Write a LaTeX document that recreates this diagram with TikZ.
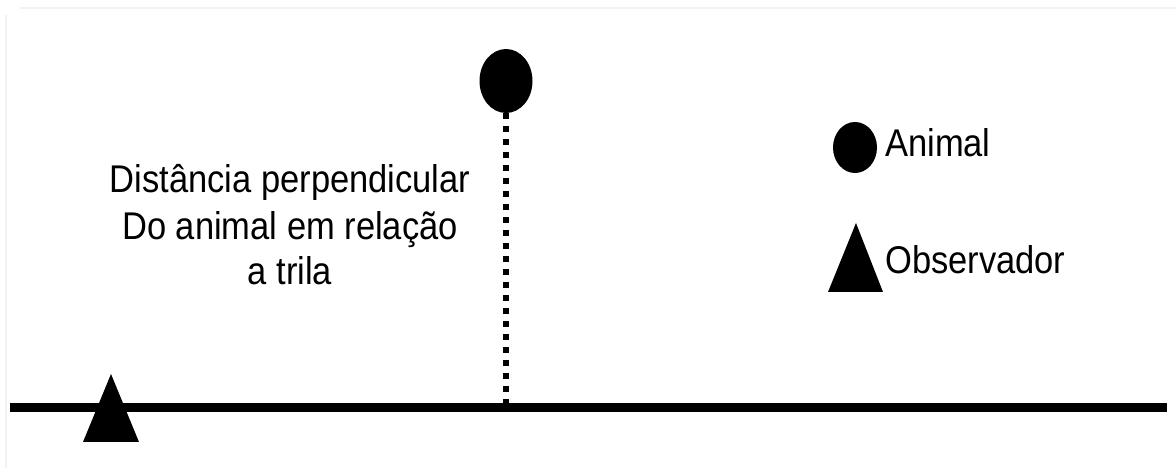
\documentclass[tikz,border=0pt]{standalone}
\usepackage{fontspec}
\setmainfont{Liberation Sans}
\usetikzlibrary{shapes.geometric}
\begin{document}
\begin{tikzpicture}[x=1pt,y=1pt,
  lbl/.style={inner sep=0pt, font=\fontsize{34.5}{40}\selectfont, yscale=1.12, transform shape},
  trail/.style={line width=9pt},
  perp/.style={line width=6pt, dash pattern=on 6pt off 7pt},
  blob/.style={ellipse, fill=black, draw=none, inner sep=0pt},
  frameline/.style={black!5, line width=2pt}]
\useasboundingbox (0,0) rectangle (1176,468);
\fill[white] (0,0) rectangle (1176,468);
% faint frame
\draw[frameline] (20,460) -- (1176,460);
\draw[frameline] (6,453) -- (6,0);
% trail
\coordinate (trailL) at (10,60);
\coordinate (trailR) at (1167,60);
\draw[trail] (trailL) -- (trailR);
% observer on the trail
\coordinate (obsTop) at (111,94);
\fill[black] (obsTop) -- (83,26) -- (139,26) -- cycle;
% animal
\node[blob, minimum width=53pt, minimum height=64pt] (animal) at (506,387) {};
\coordinate (foot) at (506,64);
\draw[perp] (animal.south) -- (foot);
% distance label
\node[lbl, anchor=base] (d1) at (290,275) {Distância perpendicular};
\node[lbl, anchor=base] (d2) at (290,228.5) {Do animal em relação};
\node[lbl, anchor=base] (d3) at (290,183) {a trila};
% legend
\node[blob, minimum width=44pt, minimum height=51pt] (legAnimal) at (855,320.5) {};
\node[lbl, anchor=base west] (legAnimalTxt) at (885,311) {Animal};
\coordinate (legObsTop) at (856,245);
\fill[black] (legObsTop) -- (828,176) -- (883,176) -- cycle;
\node[lbl, anchor=base west] (legObsTxt) at (885,194) {Observador};
\end{tikzpicture}
\end{document}
